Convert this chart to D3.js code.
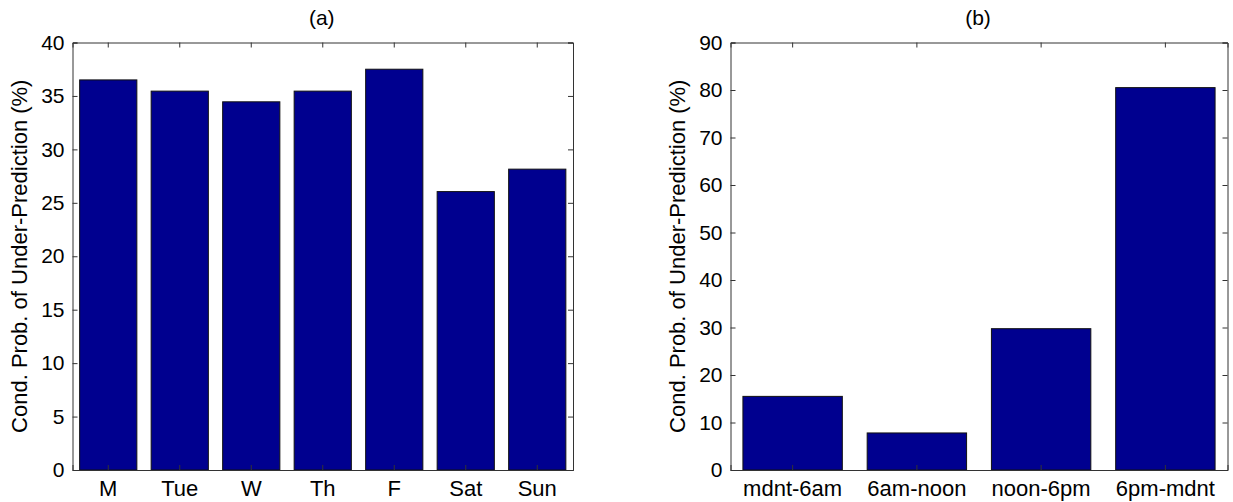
<!DOCTYPE html>
<html><head><meta charset="utf-8">
<script src="https://cdn.jsdelivr.net/npm/d3@7"></script>
<style>body{margin:0;background:#fff}svg{display:block}text{font-family:"Liberation Sans",Arial,sans-serif;fill:#000}</style>
</head><body><svg id="c" width="1233" height="502"></svg>
<script>
const daysCats = ["M","Tue","W","Th","F","Sat","Sun"];
const daysVals = [36.5, 35.45, 34.45, 35.45, 37.5, 26.05, 28.15];
const daysTicks = [0,5,10,15,20,25,30,35,40];
const timeCats = ["mdnt-6am","6am-noon","noon-6pm","6pm-mdnt"];
const timeVals = [15.5, 7.8, 29.75, 80.5];
const timeTicks = [0,10,20,30,40,50,60,70,80,90];
const yLabel = "Cond. Prob. of Under-Prediction (%)";

const svg = d3.select("#c");
function panel(cfg){
  const {x0,x1,y0,y1,cats,vals,ticks,ymax,title} = cfg;
  const g = svg.append("g");
  const x = d3.scaleBand().domain(cats).range([x0,x1]).paddingInner(0.2).paddingOuter(0.1);
  const y = d3.scaleLinear().domain([0,ymax]).range([y1,y0]);
  g.selectAll("rect.bar").data(vals).join("rect")
    .attr("x",(d,i)=>x(cats[i])).attr("width",x.bandwidth())
    .attr("y",d=>y(d)).attr("height",d=>y1-y(d))
    .attr("fill","#00008f").attr("stroke","#111").attr("stroke-width",1);
  const tl=5;
  const left = g.append("g").attr("transform",`translate(${x0},0)`)
    .call(d3.axisLeft(y).tickValues(ticks).tickSize(-tl).tickPadding(8).tickFormat(d3.format("d")));
  const right = g.append("g").attr("transform",`translate(${x1},0)`)
    .call(d3.axisRight(y).tickValues(ticks).tickSize(-tl).tickFormat(""));
  const bottom = g.append("g").attr("transform",`translate(0,${y1})`)
    .call(d3.axisBottom(x).tickSize(-tl).tickPadding(10));
  const top = g.append("g").attr("transform",`translate(0,${y0})`)
    .call(d3.axisTop(x).tickSize(-tl).tickFormat(""));
  [left,right,bottom,top].forEach(a=>{
    a.select(".domain").attr("stroke","#333").attr("stroke-width",1);
    a.selectAll(".tick line").attr("stroke","#333");
    a.selectAll("text").style("font-family",'"Liberation Sans",Arial,sans-serif').attr("fill","#000");
  });
  left.selectAll("text").style("font-size","21px");
  bottom.selectAll("text").style("font-size","22px");
  g.append("text").attr("x",(x0+x1)/2 - 1).attr("y",25).attr("text-anchor","middle")
    .style("font-size","21px").text(title);
  g.append("text").attr("transform",`translate(${x0-45.5},${(y0+y1)/2}) rotate(-90)`)
    .attr("text-anchor","middle").style("font-size","22px").text(yLabel);
}
panel({x0:72.5,x1:573,y0:42.5,y1:470,cats:daysCats,vals:daysVals,ticks:daysTicks,ymax:40,title:"(a)"});
panel({x0:730.5,x1:1227.5,y0:42.5,y1:470,cats:timeCats,vals:timeVals,ticks:timeTicks,ymax:90,title:"(b)"});
</script></body></html>
